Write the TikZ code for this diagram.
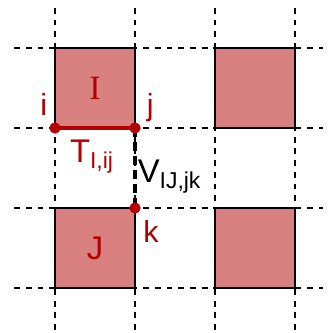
\documentclass[tikz,border=0pt]{standalone}
\usepackage{fontspec}
\setmainfont{Liberation Sans}
\newfontfamily\serifletter{Liberation Serif}
\usepackage{xcolor}
\definecolor{cellred}{RGB}{217,128,128}
\definecolor{darkred}{RGB}{180,0,0}
\usepackage{tikz}
\usetikzlibrary{positioning}

\begin{document}
\begin{tikzpicture}[
  x=2.4cm, y=2.4cm,
  font=\fontsize{28}{32}\selectfont,
  gridline/.style={dashed, dash pattern=on 5pt off 5pt, line width=1.1pt, black},
  cell/.style={draw=black, fill=cellred, line width=1.4pt, minimum size=2.4cm,
               inner sep=0pt, text=darkred},
  site/.style={circle, fill=darkred, inner sep=0pt, minimum size=0.34cm},
  sitelabel/.style={text=darkred, inner sep=1pt, font=\fontsize{26}{30}\selectfont},
  hopline/.style={line width=3pt, darkred},
  interline/.style={line width=3.2pt, black, dash pattern=on 7.5pt off 4.5pt}
]
\useasboundingbox (-0.6875,-0.5625) rectangle (3.425,3.6);

%% Dashed lattice
\foreach \x in {0,...,3}
  \draw [gridline] (\x,-0.525) -- (\x,3.51);
\foreach \y in {0,...,3}
  \draw [gridline] (-0.51,\y) -- (3.35,\y);

%% Plaquettes
\node (I) [cell] at (0.5,2.5) {\serifletter\fontsize{29}{32}\selectfont I};
\node (J) [cell] at (0.5,0.5) {J};
\node (K) [cell] at (2.5,2.5) {};
\node (L) [cell] at (2.5,0.5) {};

%% Sites
\coordinate (si) at (0,2);
\coordinate (sj) at (1,2);
\coordinate (sk) at (1,1);

%% Hopping and interaction bonds
\draw [hopline] (si) -- (sj);
\draw [interline] (sj) -- (sk);

\node (di) [site] at (si) {};
\node (dj) [site] at (sj) {};
\node (dk) [site] at (sk) {};

%% Site labels
\node (li) [sitelabel] at (-0.14,2.3) {i};
\node (lj) [sitelabel] at (1.19,2.25) {j};
\node (lk) [sitelabel] at (1.2,0.71) {k};

%% Bond labels
\node (lT) [text=darkred] at (0.46,1.64) {T\textsubscript{I,ij}};
\node (lV) at (1.43,1.39) {V\textsubscript{IJ,jk}};

\end{tikzpicture}
\end{document}
